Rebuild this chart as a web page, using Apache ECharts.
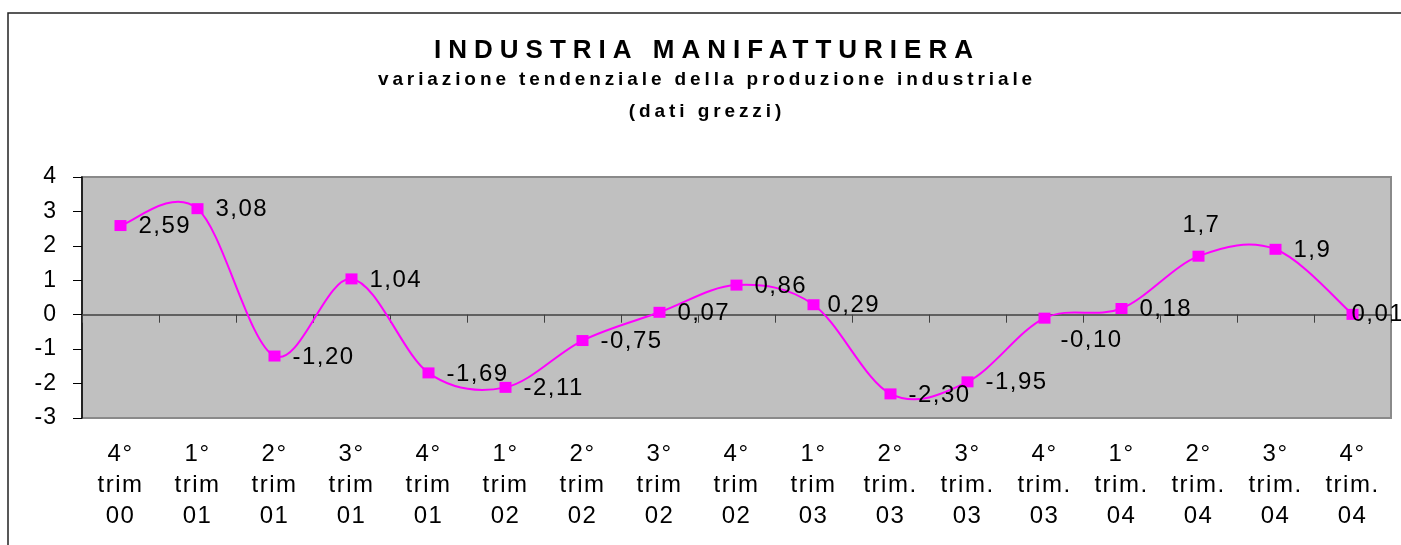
<!DOCTYPE html>
<html>
<head>
<meta charset="utf-8">
<style>
  html, body { margin: 0; padding: 0; background: #ffffff; }
  #chart { width: 1401px; height: 545px; }
</style>
<script src="https://cdn.jsdelivr.net/npm/echarts@6/dist/echarts.min.js"></script>
</head>
<body>
<div id="chart"></div>
<script>
// ---- data ----
const categories = [
  '4°\ntrim\n00', '1°\ntrim\n01', '2°\ntrim\n01', '3°\ntrim\n01', '4°\ntrim\n01',
  '1°\ntrim\n02', '2°\ntrim\n02', '3°\ntrim\n02', '4°\ntrim\n02', '1°\ntrim\n03',
  '2°\ntrim.\n03', '3°\ntrim.\n03', '4°\ntrim.\n03', '1°\ntrim.\n04', '2°\ntrim.\n04',
  '3°\ntrim.\n04', '4°\ntrim.\n04'
];
const values = [2.59, 3.08, -1.20, 1.04, -1.69, -2.11, -0.75, 0.07, 0.86, 0.29, -2.30, -1.95, -0.10, 0.18, 1.7, 1.9, 0.01];
const valueLabels = ['2,59', '3,08', '-1,20', '1,04', '-1,69', '-2,11', '-0,75', '0,07', '0,86', '0,29', '-2,30', '-1,95', '-0,10', '0,18', '1,7', '1,9', '0,01'];
const yMin = -3, yMax = 4, yInterval = 1;
const titleText = 'INDUSTRIA MANIFATTURIERA';
const subtitleText = 'variazione tendenziale della produzione industriale\n(dati grezzi)';

// ---- letter spacing emulation (the original uses widely spaced glyphs) ----
(function () {
  const P = CanvasRenderingContext2D.prototype;
  const d = Object.getOwnPropertyDescriptor(P, 'font');
  if (!d || !('letterSpacing' in P)) return;
  const map = { 26: '7px', 19: '3.9px', 24: '1.5px', 23: '1px' };
  Object.defineProperty(P, 'font', {
    configurable: true,
    get() { return d.get.call(this); },
    set(v) {
      d.set.call(this, v);
      const m = /(\d+(?:\.\d+)?)px/.exec(v);
      const s = m ? +m[1] : 12;
      this.letterSpacing = map[s] || '0px';
    }
  });
})();

const FONT = '"Liberation Sans", Arial, sans-serif';
const labelTweaks = {
  9: { offset: [-4, 1] },
  12: { offset: [-2, 22] },
  14: { position: 'top', distance: 13, offset: [3, 0] },
  16: { offset: [-19, 0] }
};

// Spreadsheet-style smoothed segment (Catmull-Rom tangents, 1/6 tension,
// limited to half the segment length), computed in pixel space from api.coord.
function smoothSegment(params, api) {
  const i = params.dataIndex;
  const n = values.length;
  if (i >= n - 1) return null;
  const pt = j => api.coord([Math.max(0, Math.min(n - 1, j)), values[Math.max(0, Math.min(n - 1, j))]]);
  const p0 = pt(i - 1), p1 = pt(i), p2 = pt(i + 1), p3 = pt(i + 2);
  const seg = Math.hypot(p2[0] - p1[0], p2[1] - p1[1]);
  const f = (a, b) => {
    const L = Math.hypot(b[0] - a[0], b[1] - a[1]);
    if (L === 0) return 0;
    return (L / 6 > seg / 2) ? (seg / 2) / L : 1 / 6;
  };
  const f1 = f(p0, p2), f2 = f(p1, p3);
  return {
    type: 'bezierCurve',
    shape: {
      x1: p1[0], y1: p1[1], x2: p2[0], y2: p2[1],
      cpx1: p1[0] + (p2[0] - p0[0]) * f1, cpy1: p1[1] + (p2[1] - p0[1]) * f1,
      cpx2: p2[0] - (p3[0] - p1[0]) * f2, cpy2: p2[1] - (p3[1] - p1[1]) * f2
    },
    style: { stroke: '#FF00FF', lineWidth: 2, fill: null }
  };
}

const chart = echarts.init(document.getElementById('chart'), null, { renderer: 'canvas' });
chart.setOption({
  animation: false,
  backgroundColor: '#ffffff',
  graphic: [{
    type: 'rect', z: -10, silent: true,
    shape: { x: 8, y: 13, width: 1500, height: 700 },
    style: { fill: 'none', stroke: '#222', lineWidth: 1.5 }
  }],
  title: [{
    text: titleText, left: 707, top: 38, textAlign: 'center', padding: 0,
    textStyle: { fontFamily: FONT, fontSize: 26, fontWeight: 'bold', color: '#000', lineHeight: 26 }
  }, {
    text: subtitleText, left: 707, top: 64, textAlign: 'center', padding: 0,
    textStyle: { fontFamily: FONT, fontSize: 19, fontWeight: 'bold', color: '#000', lineHeight: 32 }
  }],
  grid: {
    left: 82, right: 10, top: 177, bottom: 127, show: true,
    backgroundColor: '#C0C0C0', borderColor: '#8a8a8a', borderWidth: 2
  },
  xAxis: [{
    type: 'category', data: categories, position: 'bottom', boundaryGap: true,
    axisLine: { show: false, onZero: false }, axisTick: { show: false },
    axisLabel: { interval: 0, margin: 21, color: '#000', fontFamily: FONT, fontSize: 24, lineHeight: 31 }
  }, {
    type: 'category', data: categories, position: 'bottom', boundaryGap: true,
    axisLine: { show: true, onZero: true, lineStyle: { color: '#404040', width: 1.5 } },
    axisTick: { show: true, inside: false, length: 8, interval: 0, lineStyle: { color: '#404040', width: 1 } },
    axisLabel: { show: false }
  }],
  yAxis: {
    type: 'value', min: yMin, max: yMax, interval: yInterval,
    axisLine: { show: true, lineStyle: { color: '#000', width: 1.5 } },
    axisTick: { show: true, inside: false, length: 9, lineStyle: { color: '#000', width: 1 } },
    splitLine: { show: false },
    axisLabel: { margin: 25, color: '#000', fontFamily: FONT, fontSize: 23 }
  },
  series: [{
    type: 'custom', xAxisIndex: 0, z: 4, silent: true,
    data: values.map((v, i) => [i, v]),
    encode: { x: 0, y: 1 },
    renderItem: smoothSegment
  }, {
    type: 'line', xAxisIndex: 0,
    data: values.map((v, i) => ({
      value: v,
      label: Object.assign({ formatter: valueLabels[i] }, labelTweaks[i] || {})
    })),
    symbol: 'rect', symbolSize: [12, 11],
    lineStyle: { width: 0, opacity: 0 },
    itemStyle: { color: '#FF00FF' },
    label: {
      show: true, position: 'right', distance: 12, offset: [0, 1],
      color: '#000', fontFamily: FONT, fontSize: 24
    },
    z: 5
  }]
});
</script>
</body>
</html>
